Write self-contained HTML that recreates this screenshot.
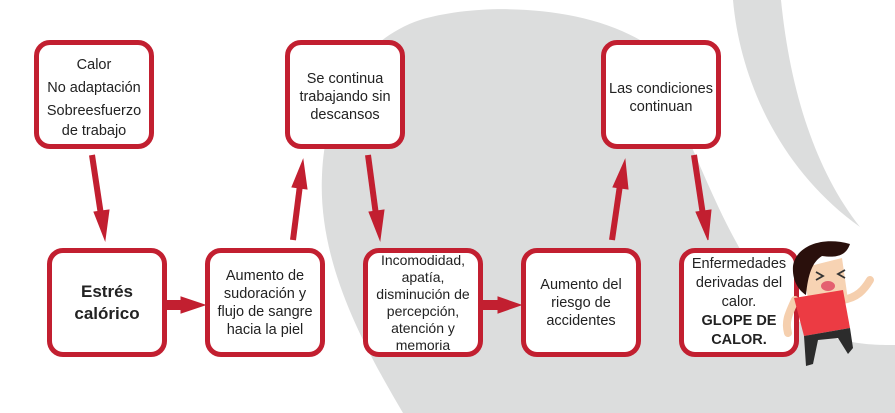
<!DOCTYPE html>
<html><head><meta charset="utf-8"><style>
body{margin:0;width:895px;height:413px;overflow:hidden;background:#fff;font-family:"Liberation Sans",sans-serif}
.b{position:absolute;width:110px;height:99px;border:5px solid #c21f30;border-radius:16px;background:#fff;display:flex;align-items:center;justify-content:center;text-align:center;font-size:14.5px;line-height:18px;color:#222;box-sizing:content-box}
</style></head><body>
<svg width="895" height="413" style="position:absolute;left:0;top:0">
<path d="M403,413 C360,340 318,260 322,175 C325,100 360,40 420,20 C480,2 580,5 640,40 C690,120 720,250 790,315 C830,345 870,345 895,345 L895,413 Z" fill="#dcdddd"/>
<path d="M733,0 C740,80 780,170 860,227 C815,170 790,90 781,0 Z" fill="#dcdddd"/>
<g fill="#c21f30" stroke="#c21f30">
<line x1="92" y1="155" x2="101" y2="215" stroke-width="6"/><polygon points="94,212 109,210 105,240"/>
<line x1="293" y1="240" x2="300" y2="185" stroke-width="6"/><polygon points="292,187 307,189 303,160"/>
<line x1="368" y1="155" x2="376" y2="215" stroke-width="6"/><polygon points="369,212 384,210 380,240"/>
<line x1="612" y1="240" x2="620" y2="185" stroke-width="6"/><polygon points="613,187 628,189 625,160"/>
<line x1="694" y1="155" x2="703" y2="215" stroke-width="6"/><polygon points="696,212 711,210 708,240"/>
<rect x="166" y="300" width="18" height="10" stroke="none"/><polygon points="181,297 181,313 205,305"/>
<rect x="483" y="300" width="18" height="10" stroke="none"/><polygon points="498,297 498,313 521,305"/>
</g>
</svg>
<div class="b" style="left:34px;top:40px;align-items:flex-start"><div style="margin-top:10px;line-height:20px">Calor<br><span style="line-height:26px">No adaptación</span><br>Sobreesfuerzo<br>de trabajo</div></div>
<div class="b" style="left:47px;top:248px;font-weight:bold;font-size:17px;line-height:22px"><div>Estrés<br>calórico</div></div>
<div class="b" style="left:205px;top:248px"><div>Aumento de<br>sudoración y<br>flujo de sangre<br>hacia la piel</div></div>
<div class="b" style="left:285px;top:40px;align-items:flex-start"><div style="margin-top:25px">Se continua<br>trabajando sin<br>descansos</div></div>
<div class="b" style="left:363px;top:248px;font-size:14px;line-height:17px"><div>Incomodidad,<br>apatía,<br>disminución de<br>percepción,<br>atención y<br>memoria</div></div>
<div class="b" style="left:521px;top:248px"><div>Aumento del<br>riesgo de<br>accidentes</div></div>
<div class="b" style="left:601px;top:40px;align-items:flex-start"><div style="margin-top:35px">Las condiciones<br>continuan</div></div>
<div class="b" style="left:679px;top:248px;line-height:19px"><div>Enfermedades<br>derivadas del<br>calor.<br><b>GLOPE DE<br>CALOR.</b></div></div>
<svg width="110" height="135" style="position:absolute;left:780px;top:236px" viewBox="780 236 110 135">
<path d="M795,300 C788,315 785,322 788,333" stroke="#f5cfae" stroke-width="8" fill="none" stroke-linecap="round"/>
<path d="M842,300 C857,298 864,290 870,280" stroke="#f5cfae" stroke-width="8" fill="none" stroke-linecap="round"/>
<path d="M802,268 L842,258 L848,300 L810,308 Z" fill="#f7d3b3"/>
<path d="M793,266 C796,246 822,236 850,244 C846,256 836,258 822,256 C812,262 808,275 806,295 C798,290 792,280 793,266 Z" fill="#2a100c"/>
<ellipse cx="828" cy="286" rx="7" ry="5" fill="#e46070"/>
<path d="M816,272 l7,4 l-7,4 M845,270 l-7,4 l7,4" stroke="#333" stroke-width="1.8" fill="none"/>
<path d="M794,298 L843,290 L850,328 L804,336 Z" fill="#ec3b43"/>
<path d="M804,336 L850,328 L853,348 L848,354 L838,338 L818,340 L813,364 L806,366 Z" fill="#2c2c2c"/>
</svg>
</body></html>
